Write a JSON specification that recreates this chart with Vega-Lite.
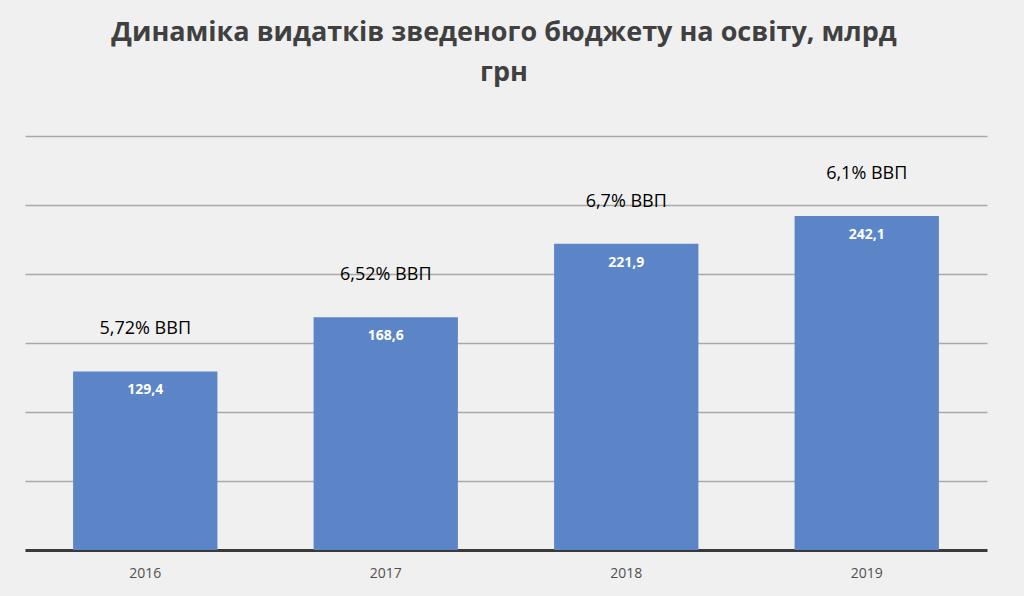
{
  "$schema": "https://vega.github.io/schema/vega-lite/v6.json",
  "width": 968,
  "height": 414,
  "autosize": {"type": "none"},
  "padding": {"left": 25, "top": 136, "right": 31, "bottom": 46},
  "background": "#f0f0f0",
  "title": {
    "text": ["Динаміка видатків зведеного бюджету на освіту, млрд", "грн"],
    "font": "Open Sans",
    "fontSize": 27,
    "fontWeight": "bold",
    "color": "#404040",
    "lineHeight": 40,
    "anchor": "middle",
    "baseline": "bottom",
    "offset": 22,
    "dx": -5
  },
  "config": {
    "view": {"stroke": null},
    "font": "Open Sans"
  },
  "data": {
    "values": [
      {"year": "2016", "value": 129.4, "label": "129,4", "gdp": "5,72% ВВП"},
      {"year": "2017", "value": 168.6, "label": "168,6", "gdp": "6,52% ВВП"},
      {"year": "2018", "value": 221.9, "label": "221,9", "gdp": "6,7% ВВП"},
      {"year": "2019", "value": 242.1, "label": "242,1", "gdp": "6,1% ВВП"}
    ]
  },
  "encoding": {
    "x": {
      "field": "year",
      "type": "nominal",
      "scale": {"range": [0, 962], "paddingInner": 0.4, "paddingOuter": 0.2},
      "axis": {
        "title": null,
        "labelAngle": 0,
        "labelFont": "Open Sans",
        "labelFontSize": 14,
        "labelColor": "#505050",
        "labelPadding": 16,
        "ticks": false,
        "domainColor": "#3a3a3a",
        "domainWidth": 3
      }
    },
    "y": {
      "field": "value",
      "type": "quantitative",
      "scale": {"domain": [0, 300], "nice": false},
      "axis": {
        "title": null,
        "labels": false,
        "ticks": false,
        "domain": false,
        "values": [50, 100, 150, 200, 250, 300],
        "gridColor": "#a9a9a9",
        "gridWidth": 1.5
      }
    }
  },
  "layer": [
    {"mark": {"type": "bar", "color": "#5b85c7"}},
    {
      "mark": {"type": "text", "color": "#ffffff", "fontWeight": "bold", "fontSize": 14, "baseline": "middle", "dy": 19},
      "encoding": {"text": {"field": "label"}}
    },
    {
      "mark": {"type": "text", "color": "#000000", "fontSize": 18, "baseline": "middle", "dy": -42},
      "encoding": {"text": {"field": "gdp"}}
    }
  ]
}
